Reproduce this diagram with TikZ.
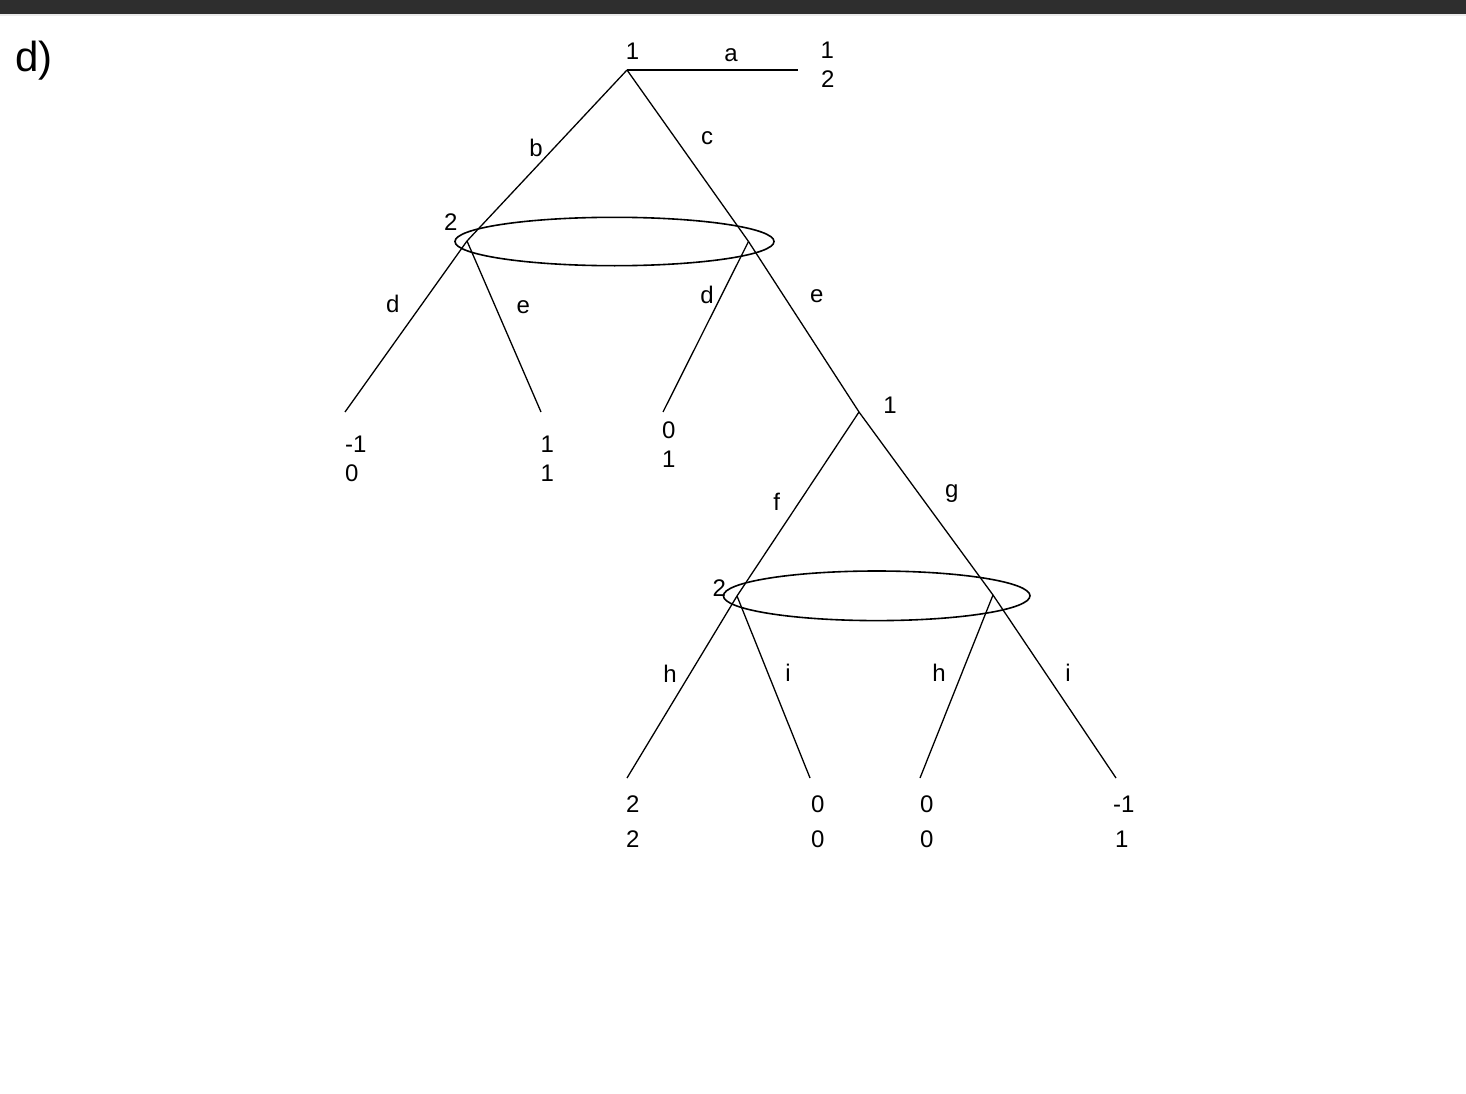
\documentclass[tikz,border=0pt]{standalone}
\usepackage{fontspec}
\setmainfont{Liberation Sans}
\usetikzlibrary{shapes.geometric}
\begin{document}
\begin{tikzpicture}[x=1pt,y=-1pt,
  edge/.style={line width=1.3pt},
  infoset/.style={draw,ellipse,line width=1.6pt,inner sep=0pt},
  lab/.style={inner sep=0pt,font=\fontsize{24}{28}\selectfont},
  pay/.style={inner sep=0pt,anchor=base west,font=\fontsize{24}{28}\selectfont}]
\useasboundingbox (0,0) rectangle (1466,1094);
\fill[white] (0,0) rectangle (1466,1094);
\fill[black!82] (0,0) rectangle (1466,14);
\fill[black!8] (0,14) rectangle (1466,16);
\node[inner sep=0pt,anchor=base west,font=\fontsize{42}{48}\selectfont] (title) at (15,72) {d)};

% decision nodes and ends
\coordinate (root) at (627,70);
\coordinate (aend) at (798,70);
\coordinate (nL) at (467,241);
\coordinate (nR) at (748.5,241.5);
\coordinate (l1) at (345,412);
\coordinate (l2) at (541,412);
\coordinate (l3) at (663,412);
\coordinate (m1) at (859,412);
\coordinate (qL) at (737,596);
\coordinate (qR) at (993,595);
\coordinate (l4) at (627,778);
\coordinate (l5) at (810,778);
\coordinate (l6) at (920,778);
\coordinate (l7) at (1116,778);

% edges
\draw[edge] (root) -- (aend);
\draw[edge] (root) -- (nL);
\draw[edge] (root) -- (nR);
\draw[edge] (nL) -- (l1);
\draw[edge] (nL) -- (l2);
\draw[edge] (nR) -- (l3);
\draw[edge] (nR) -- (m1);
\draw[edge] (m1) -- (qL);
\draw[edge] (m1) -- (qR);
\draw[edge] (qL) -- (l4);
\draw[edge] (qL) -- (l5);
\draw[edge] (qR) -- (l6);
\draw[edge] (qR) -- (l7);

% information sets
\node[infoset,minimum width=319pt,minimum height=48.4pt] (set1) at (614.5,241.5) {};
\node[infoset,minimum width=306.6pt,minimum height=49.6pt] (set2) at (876.7,595.8) {};

% player labels
\node[lab] (p0) at (632.5,51.5) {1};
\node[lab] (p1) at (450.7,221.7) {2};
\node[lab] (p2) at (890,405) {1};
\node[lab] (p3) at (719.3,588) {2};

% action labels
\node[lab] (ta) at (731,54.7) {a};
\node[lab] (tb) at (536,147.5) {b};
\node[lab] (tc) at (707,138) {c};
\node[lab] (td1) at (392.7,303.8) {d};
\node[lab] (te1) at (523.3,307.5) {e};
\node[lab] (td2) at (707,295) {d};
\node[lab] (te2) at (816.7,295.8) {e};
\node[lab] (tf) at (776.7,502) {f};
\node[lab] (tg) at (951.7,494) {g};
\node[lab] (th1) at (670,673.3) {h};
\node[lab] (ti1) at (788,673) {i};
\node[lab] (th2) at (939,673) {h};
\node[lab] (ti2) at (1068,673) {i};

% payoffs
\node[pay] (ya1) at (820.5,59) {1};
\node[pay] (ya2) at (821,88) {2};
\node[pay] (y11) at (345,452) {-1};
\node[pay] (y12) at (345,481) {0};
\node[pay] (y21) at (540.5,452) {1};
\node[pay] (y22) at (540.5,481) {1};
\node[pay] (y31) at (662,438) {0};
\node[pay] (y32) at (662,467) {1};
\node[pay] (y41) at (626,812) {2};
\node[pay] (y42) at (626,847) {2};
\node[pay] (y51) at (811,812) {0};
\node[pay] (y52) at (811,847) {0};
\node[pay] (y61) at (920,812) {0};
\node[pay] (y62) at (920,847) {0};
\node[pay] (y71) at (1113,812) {-1};
\node[pay] (y72) at (1115,847) {1};
\end{tikzpicture}
\end{document}
